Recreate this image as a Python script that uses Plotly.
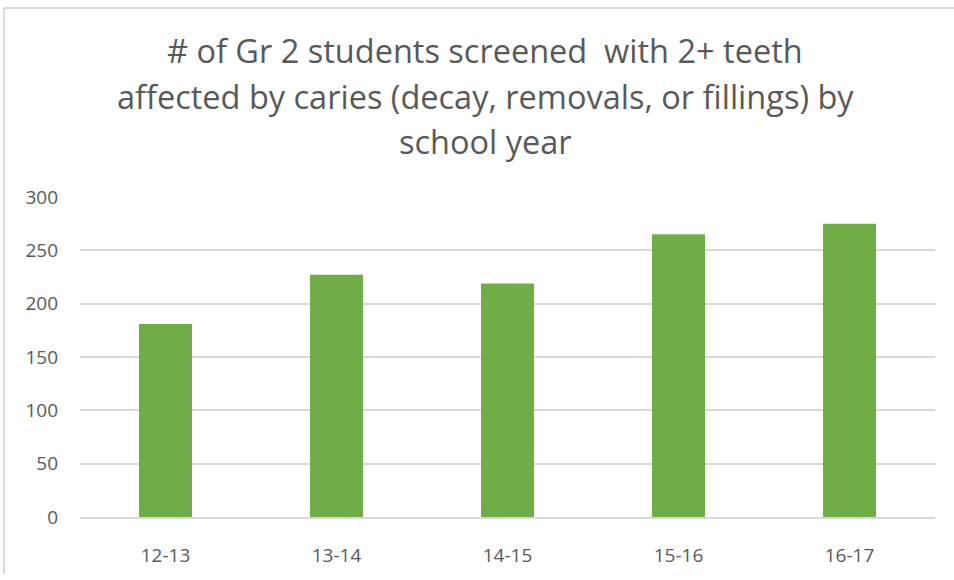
import plotly.graph_objects as go

categories = ["12-13", "13-14", "14-15", "15-16", "16-17"]
values = [181, 227, 219, 265, 275]
y_ticks = [0, 50, 100, 150, 200, 250, 300]
title_lines = [
    "# of Gr 2 students screened  with 2+ teeth",
    "affected by caries (decay, removals, or fillings) by",
    "school year",
]

W, H = 954, 580
L, R, T, B = 80, 19, 197, 58
pw, ph = W - L - R, H - T - B

def px(x):
    return (x - L) / pw

def py(y):
    return (H - B - y) / ph

font_family = "Open Sans, sans-serif"
txt_color = "#595959"

fig = go.Figure(go.Bar(
    x=categories, y=values,
    marker=dict(color="#70AD47", line=dict(width=0)),
    width=0.31,
))

annotations = []
for line, yc in zip(title_lines, [48, 95, 141]):
    annotations.append(dict(
        text=line, xref="paper", yref="paper", x=px(485), y=py(yc),
        xanchor="center", yanchor="middle", showarrow=False,
        font=dict(family=font_family, size=32.5, color=txt_color),
    ))

fig.update_layout(
    width=W, height=H,
    margin=dict(l=L, r=R, t=T, b=B, pad=0),
    paper_bgcolor="white", plot_bgcolor="white",
    showlegend=False,
    annotations=annotations,
    shapes=[
        dict(type="line", xref="paper", yref="paper", x0=px(4), x1=px(954), y0=py(5), y1=py(5),
             line=dict(color="#d9d9d9", width=2)),
        dict(type="line", xref="paper", yref="paper", x0=px(4), x1=px(4), y0=py(5), y1=py(580),
             line=dict(color="#d9d9d9", width=2)),
    ],
    font=dict(family=font_family, color=txt_color),
)
fig.update_yaxes(
    range=[0, 300], tickvals=y_ticks, showgrid=True, gridcolor="#d9d9d9", gridwidth=1.5,
    zeroline=False, showline=False, ticks="", ticklabelstandoff=21,
    tickfont=dict(family=font_family, size=19, color=txt_color),
)
fig.update_xaxes(
    showline=True, linecolor="#d9d9d9", linewidth=1.5, ticks="", ticklabelstandoff=20,
    tickfont=dict(family=font_family, size=19, color=txt_color),
)

fig.write_html("out.html", config={"displayModeBar": False},
               post_script="document.body.style.margin='0';")
